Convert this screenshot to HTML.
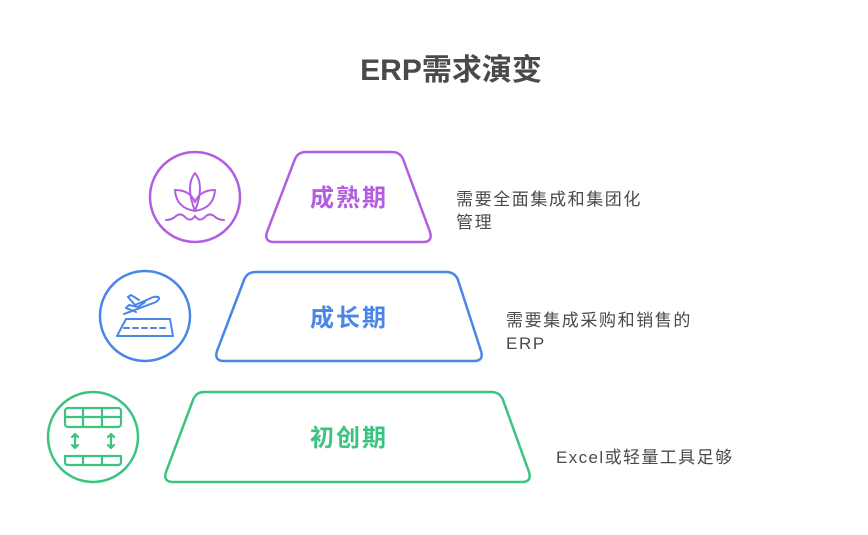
<!DOCTYPE html>
<html><head><meta charset="utf-8"><style>
body{margin:0;width:868px;height:535px;background:#fff;overflow:hidden;font-family:"Liberation Sans","Noto Sans CJK SC",sans-serif}
.t{position:absolute;color:#4a4a4a;font-size:17px;line-height:23px;letter-spacing:1.6px}
</style></head><body>
<svg width="868" height="535" style="position:absolute;left:0;top:0" font-family="Liberation Sans, Noto Sans CJK SC, sans-serif">
<text x="451" y="80" text-anchor="middle" font-size="30" font-weight="bold" fill="#4a4a4a">ERP需求演变</text>
<path d="M306,152 H392 Q400,152 403,159 L430,232 Q433,242 423,242 H274 Q264,242 267,232 L295,159 Q298,152 306,152Z" fill="none" stroke="#b35ee0" stroke-width="2.5"/>
<path d="M256,272 H446 Q455,272 458,280 L481,351 Q484,361 474,361 H224 Q214,361 217,351 L244,280 Q247,272 256,272Z" fill="none" stroke="#4a86e8" stroke-width="2.5"/>
<path d="M204,392 H491 Q500,392 503,400 L529,472 Q532,482 522,482 H173 Q163,482 166,472 L193,400 Q196,392 204,392Z" fill="none" stroke="#3cc37f" stroke-width="2.5"/>
<g font-size="24" font-weight="bold" letter-spacing="2" text-anchor="middle">
<text x="349" y="206" fill="#b35ee0">成熟期</text>
<text x="349" y="326" fill="#4a86e8">成长期</text>
<text x="349" y="446" fill="#3cc37f">初创期</text>
</g>
<circle cx="195" cy="197" r="45" fill="none" stroke="#b35ee0" stroke-width="2.5"/>
<circle cx="145" cy="316" r="45" fill="none" stroke="#4a86e8" stroke-width="2.5"/>
<circle cx="93" cy="437" r="45" fill="none" stroke="#3cc37f" stroke-width="2.5"/>
<g fill="none" stroke="#b35ee0" stroke-width="2" stroke-linecap="round" stroke-linejoin="round">
<path d="M195,173 Q185,185 195,211 Q205,185 195,173Z"/>
<path d="M195,211 Q176,208 175,190 Q190,190 195,202"/>
<path d="M195,211 Q214,208 215,190 Q200,190 195,202"/>
<path d="M166,220 Q172,220 176,216 Q181,212 186,218 Q191,222 195,216 Q199,222 204,218 Q209,212 214,216 Q218,220 224,220"/>
</g>
<g fill="none" stroke="#4a86e8" stroke-width="2" stroke-linecap="round" stroke-linejoin="round">
<path d="M126,319 L170,319 L173,336 L117,336Z"/>
<path d="M124,328 H166" stroke-dasharray="5,4"/>
<path d="M124,314 L156,302 Q161,298 158,297 Q154,296 149,299 L135,305 L128,297 L131,295 L139,300 M145,302 L138,307 L129,305 L126,308 L136,312"/>
</g>
<g fill="none" stroke="#3cc37f" stroke-width="2.2" stroke-linecap="round" stroke-linejoin="round">
<rect x="65" y="408" width="56" height="19" rx="3"/>
<path d="M65,417 H121 M83,408 V427 M102,408 V427"/>
<path d="M65,456 H121 V462 Q121,465 118,465 H68 Q65,465 65,462Z M83,456 V465 M102,456 V465"/>
<path d="M75,434 V448 M72,437 L75,434 L78,437 M72,445 L75,448 L78,445"/>
<path d="M111,434 V448 M108,437 L111,434 L114,437 M108,445 L111,448 L114,445"/>
</g>
</svg>
<div class="t" style="left:456px;top:188px">需要全面集成和集团化<br>管理</div>
<div class="t" style="left:506px;top:309px">需要集成采购和销售的<br>ERP</div>
<div class="t" style="left:556px;top:446px;letter-spacing:1.4px">Excel或轻量工具足够</div>
</body></html>
